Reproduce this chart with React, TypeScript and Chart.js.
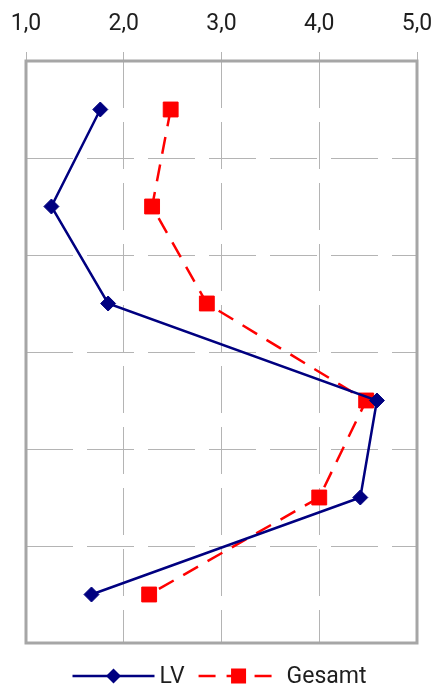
import React, { useEffect, useRef } from "react";
import { Chart, registerables } from "chart.js";

Chart.register(...registerables);

const categories = ["1", "2", "3", "4", "5", "6"];
const lvValues = [1.76, 1.26, 1.84, 4.59, 4.42, 1.67];
const gesamtValues = [2.48, 2.29, 2.85, 4.48, 4.0, 2.26];
const seriesNames = ["LV", "Gesamt"];
const xMin = 1;
const xMax = 5;

const NAVY = "#000080";
const RED = "#ff0000";
const GRID = "#b4b4b4";
const FRAME = "#a6a6a6";
const TEXT = "#1e1e1e";
const FONT = "Roboto";

const framePlugin = {
  id: "frame",
  beforeDatasetsDraw(chart: any) {
    const { ctx, chartArea } = chart;
    ctx.save();
    ctx.strokeStyle = FRAME;
    ctx.lineWidth = 3;
    ctx.setLineDash([]);
    ctx.strokeRect(
      chartArea.left,
      chartArea.top,
      chartArea.right - chartArea.left,
      chartArea.bottom - chartArea.top
    );
    ctx.restore();
  },
};

const legendPlugin = {
  id: "customLegend",
  afterDraw(chart: any) {
    const { ctx, width } = chart;
    const y = 676;
    const lineLen = 82;
    const gapText = 5;
    const gapItem = 14;
    ctx.save();
    ctx.font = `23px ${FONT}`;
    const w0 = ctx.measureText(seriesNames[0]).width;
    const w1 = ctx.measureText(seriesNames[1]).width;
    const total = lineLen + gapText + w0 + gapItem + lineLen + gapText + w1;
    let x = (width - total) / 2;

    // LV
    ctx.strokeStyle = NAVY;
    ctx.lineWidth = 2.5;
    ctx.setLineDash([]);
    ctx.beginPath();
    ctx.moveTo(x, y);
    ctx.lineTo(x + lineLen, y);
    ctx.stroke();
    const cx0 = x + lineLen / 2;
    const r = 7.5;
    ctx.fillStyle = NAVY;
    ctx.beginPath();
    ctx.moveTo(cx0 - r, y);
    ctx.lineTo(cx0, y - r);
    ctx.lineTo(cx0 + r, y);
    ctx.lineTo(cx0, y + r);
    ctx.closePath();
    ctx.fill();
    x += lineLen + gapText;
    ctx.fillStyle = TEXT;
    ctx.textBaseline = "middle";
    ctx.textAlign = "left";
    ctx.fillText(seriesNames[0], x, y + 1);
    x += w0 + gapItem;

    // Gesamt
    ctx.strokeStyle = RED;
    ctx.lineWidth = 2.5;
    ctx.setLineDash([17, 11]);
    ctx.beginPath();
    ctx.moveTo(x, y);
    ctx.lineTo(x + lineLen, y);
    ctx.stroke();
    ctx.setLineDash([]);
    const cx1 = x + lineLen / 2 - 1;
    const s = 7.5;
    ctx.fillStyle = RED;
    ctx.fillRect(cx1 - s, y - s, 2 * s, 2 * s);
    x += lineLen + gapText + 1;
    ctx.fillStyle = TEXT;
    ctx.fillText(seriesNames[1], x, y + 1);
    ctx.restore();
  },
};

export default function App() {
  const ref = useRef<HTMLCanvasElement | null>(null);

  useEffect(() => {
    if (!ref.current) return;
    const chart = new Chart(ref.current, {
      type: "line",
      data: {
        labels: categories,
        datasets: [
          {
            label: seriesNames[0],
            data: lvValues,
            borderColor: NAVY,
            backgroundColor: NAVY,
            borderWidth: 2.5,
            pointStyle: "rectRot",
            pointRadius: 7.5,
            pointBorderWidth: 1,
            pointBackgroundColor: NAVY,
            pointBorderColor: NAVY,
            tension: 0,
            fill: false,
          },
          {
            label: seriesNames[1],
            data: gesamtValues,
            borderColor: RED,
            backgroundColor: RED,
            borderWidth: 2.5,
            borderDash: [17, 11],
            pointStyle: "rect",
            pointRadius: 10.5,
            pointBorderWidth: 1,
            pointBackgroundColor: RED,
            pointBorderColor: RED,
            tension: 0,
            fill: false,
          },
        ],
      },
      options: {
        indexAxis: "y",
        responsive: false,
        animation: false,
        devicePixelRatio: 1,
        layout: { padding: { top: 0, left: 0, right: 21, bottom: 46 } },
        plugins: {
          legend: { display: false },
          tooltip: { enabled: false },
        },
        scales: {
          x: {
            type: "linear",
            position: "top",
            min: xMin,
            max: xMax,
            afterFit: (scale: any) => {
              scale.height = 61;
              scale.paddingLeft = 0;
              scale.paddingRight = 0;
            },
            ticks: {
              stepSize: 1,
              padding: 14,
              color: TEXT,
              font: { family: FONT, size: 23 },
              callback: (v: any) => Number(v).toFixed(1).replace(".", ","),
            },
            grid: {
              color: GRID,
              lineWidth: 1,
              tickLength: 9,
              tickColor: GRID,
              tickBorderDash: [],
              drawTicks: true,
            },
            border: { display: false, dash: [47, 14] },
          },
          y: {
            type: "category",
            offset: true,
            afterFit: (scale: any) => {
              scale.width = 26;
              scale.paddingTop = 0;
              scale.paddingBottom = 0;
            },
            ticks: { display: false },
            grid: {
              offset: true,
              color: GRID,
              lineWidth: 1,
              drawTicks: false,
            },
            border: { display: false, dash: [47, 14] },
          },
        },
      },
      plugins: [framePlugin, legendPlugin],
    } as any);
    return () => chart.destroy();
  }, []);

  return (
    <div style={{ position: "absolute", left: 0, top: 0, width: 438, height: 689, background: "#fff" }}>
      <canvas ref={ref} width={438} height={689} style={{ display: "block", width: 438, height: 689 }} />
    </div>
  );
}
